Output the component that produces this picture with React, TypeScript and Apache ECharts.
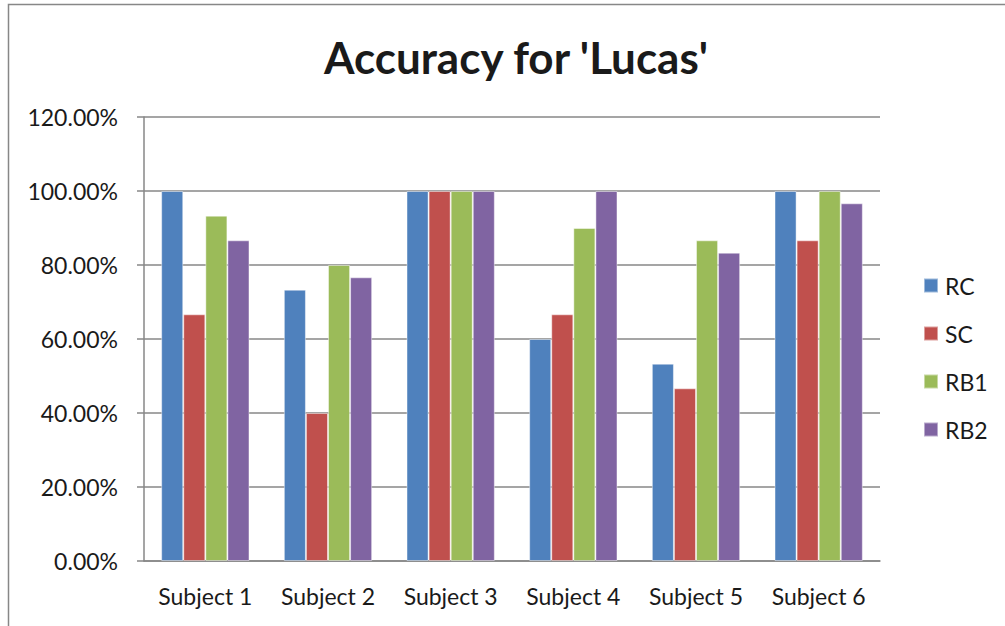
import React, { useEffect, useRef } from "react";
import * as echarts from "echarts";

const categories = ["Subject 1", "Subject 2", "Subject 3", "Subject 4", "Subject 5", "Subject 6"];
const seriesNames = ["RC", "SC", "RB1", "RB2"];
const rcValues = [100, 73.33, 100, 60, 53.33, 100];
const scValues = [66.67, 40, 100, 66.67, 46.67, 86.67];
const rb1Values = [93.33, 80, 100, 90, 86.67, 100];
const rb2Values = [86.67, 76.67, 100, 100, 83.33, 96.67];
const colors = ["#4F81BD", "#C0504D", "#9BBB59", "#8064A2"];

const FONT = "Lato, 'Open Sans', sans-serif";

export default function App() {
  const ref = useRef<HTMLDivElement>(null);
  useEffect(() => {
    if (!ref.current) return;
    const chart = echarts.init(ref.current, null, { renderer: "svg" });
    const data = [rcValues, scValues, rb1Values, rb2Values];
    chart.setOption({
      animation: false,
      backgroundColor: "#ffffff",
      title: {
        text: "Accuracy for 'Lucas'",
        left: 511,
        textAlign: "center",
        top: 30,
        textStyle: { fontFamily: FONT, fontSize: 44, fontWeight: "bold", color: "#1a1a1a" },
      },
      graphic: [
        {
          type: "rect",
          shape: { x: 8.5, y: 4.5, width: 1200, height: 800 },
          style: { fill: "none", stroke: "#878787", lineWidth: 1.5 },
          silent: true,
        },
      ],
      legend: {
        orient: "vertical",
        left: 923,
        top: 274,
        padding: 0,
        itemWidth: 14,
        itemHeight: 14,
        itemGap: 25,
        icon: "rect",
        data: seriesNames,
        textStyle: { fontFamily: FONT, fontSize: 23, color: "#1a1a1a", padding: [0, 0, 0, 2] },
      },
      grid: { left: 144, right: 125, top: 117, bottom: 65, containLabel: false },
      xAxis: {
        type: "category",
        data: categories,
        axisLine: { lineStyle: { color: "#878787", width: 1.5 } },
        axisTick: { show: false },
        axisLabel: { fontFamily: FONT, fontSize: 23, color: "#1a1a1a", margin: 23 },
      },
      yAxis: {
        type: "value",
        min: 0,
        max: 120,
        interval: 20,
        axisLine: { show: true, lineStyle: { color: "#878787", width: 1.5 } },
        axisTick: { show: true, length: 7, lineStyle: { color: "#878787", width: 1.5 } },
        splitLine: { lineStyle: { color: "#878787", width: 1.5 } },
        axisLabel: {
          fontFamily: FONT,
          fontSize: 23,
          color: "#1a1a1a",
          margin: 26,
          formatter: (v: number) => v.toFixed(2) + "%",
        },
      },
      series: seriesNames.map((name, i) => ({
        name,
        type: "bar",
        data: data[i],
        barGap: "0%",
        barCategoryGap: "28%",
        itemStyle: { color: colors[i], borderColor: "rgba(255,255,255,0.45)", borderWidth: 1 },
      })),
    });
    return () => chart.dispose();
  }, []);
  return (
    <div
      ref={ref}
      style={{ position: "absolute", left: 0, top: 0, width: 1005, height: 626 }}
    />
  );
}
